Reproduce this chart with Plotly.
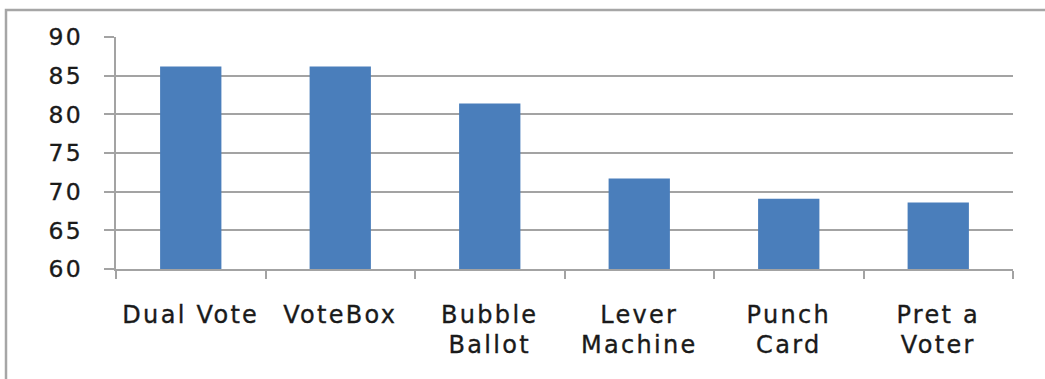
import plotly.graph_objects as go

categories = ["Dual Vote", "VoteBox", "Bubble<br>Ballot", "Lever<br>Machine", "Punch<br>Card", "Pret a<br>Voter"]
values = [86.2, 86.2, 81.4, 71.7, 69.1, 68.6]
y_ticks = [60, 65, 70, 75, 80, 85, 90]

GRID = "#A3A3A3"
TXT = "#1A1A1A"
XSTYLE = "letter-spacing:2.3px;font-size:24px;stroke:#1A1A1A;stroke-width:0.35px"
YSTYLE = "letter-spacing:2.5px;stroke:#1A1A1A;stroke-width:0.35px"

xlabels = ["<span style='%s'>%s</span>" % (XSTYLE, c) for c in categories]

fig = go.Figure(go.Bar(
    x=list(range(len(categories))),
    y=values,
    marker=dict(color="#4A7EBB", line=dict(width=0)),
    width=0.41,
))

W, H = 1045, 379
L, R, T, B = 116, 1013, 37, 269
pw, ph = R - L, B - T

fig.update_layout(
    width=W, height=H,
    margin=dict(l=L, r=W - R, t=T, b=H - B),
    paper_bgcolor="white", plot_bgcolor="white",
    showlegend=False,
    font=dict(family="DejaVu Sans", color=TXT),
    xaxis=dict(
        type="category",
        tickmode="array",
        tickvals=list(range(len(categories))),
        ticktext=xlabels,
        tickson="boundaries",
        ticks="outside", ticklen=8, tickwidth=2, tickcolor=GRID,
        showgrid=False,
        showline=True, linecolor=GRID, linewidth=2,
        tickfont=dict(size=23, family="DejaVu Sans", color=TXT),
        ticklabelstandoff=24,
        range=[-0.5, len(categories) - 0.5],
    ),
    yaxis=dict(
        range=[60, 90],
        tickmode="array",
        tickvals=y_ticks,
        ticktext=["<span style='%s'>%d</span>" % (YSTYLE, v) for v in y_ticks],
        ticks="outside", ticklen=10, tickwidth=2, tickcolor=GRID,
        showgrid=True, gridcolor=GRID, gridwidth=2,
        showline=True, linecolor=GRID, linewidth=2,
        zeroline=False,
        tickfont=dict(size=23.5, family="DejaVu Sans", color=TXT),
        ticklabelstandoff=16,
    ),
    shapes=[dict(
        type="rect", xref="paper", yref="paper",
        x0=(6 - L) / pw, x1=1.2,
        y0=-1.0, y1=(B - 10) / ph,
        line=dict(color="#A6A6A6", width=2.5),
        fillcolor="rgba(0,0,0,0)",
        layer="below",
    )],
)

fig.write_html("out.html")
